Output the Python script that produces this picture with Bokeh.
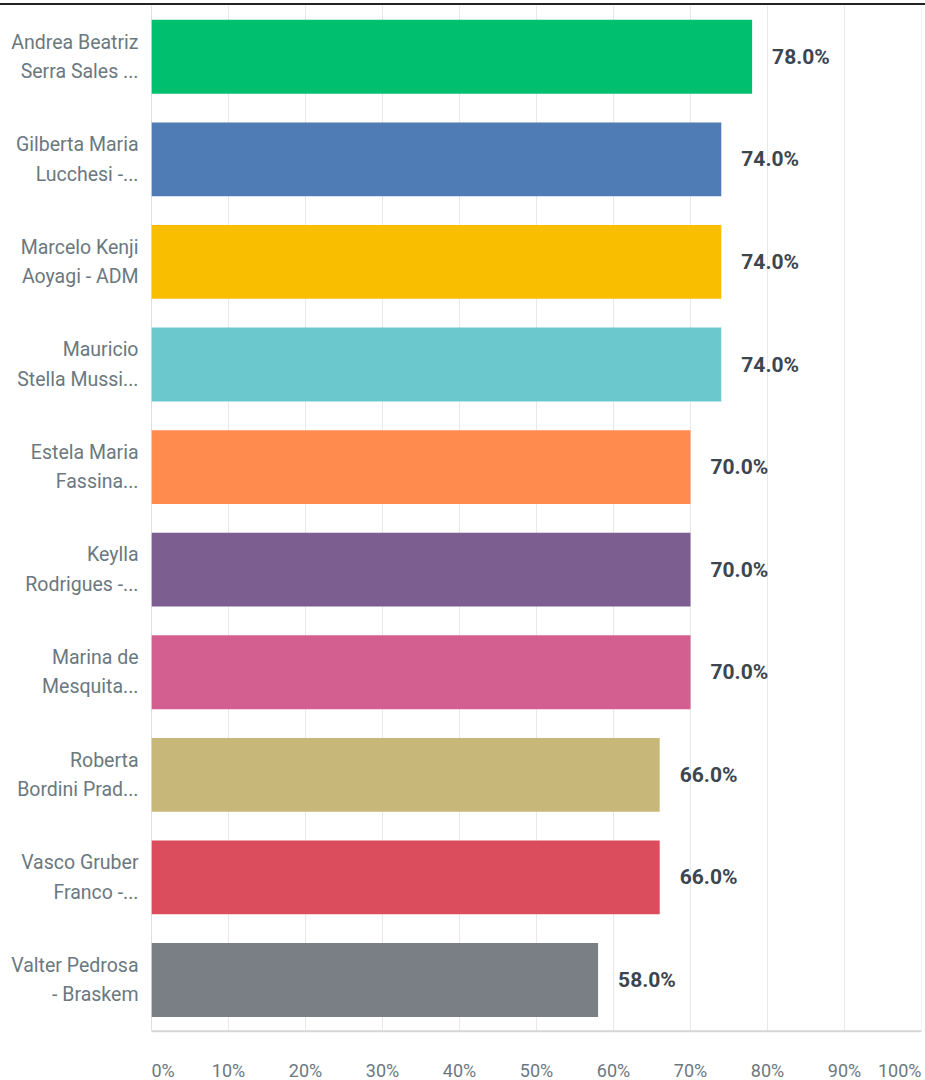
from bokeh.plotting import figure
from bokeh.models import Range1d, ColumnDataSource, FixedTicker, Span
from bokeh.core.properties import value
from bokeh.embed import file_html
from bokeh.resources import INLINE

categories = ["Andrea Beatriz\nSerra Sales ...", "Gilberta Maria\nLucchesi -...",
              "Marcelo Kenji\nAoyagi - ADM", "Mauricio\nStella Mussi...",
              "Estela Maria\nFassina...", "Keylla\nRodrigues -...",
              "Marina de\nMesquita...", "Roberta\nBordini Prad...",
              "Vasco Gruber\nFranco -...", "Valter Pedrosa\n- Braskem"]
values = [78.0, 74.0, 74.0, 74.0, 70.0, 70.0, 70.0, 66.0, 66.0, 58.0]
colors = ["#00BF6F", "#507CB6", "#F9BE00", "#6BC8CD", "#FF8B4F",
          "#7D5E90", "#D25F90", "#C7B879", "#DB4D5C", "#7A7F85"]
tick_values = [0, 10, 20, 30, 40, 50, 60, 70, 80, 90, 100]
tick_labels = ["0%", "10%", "20%", "30%", "40%", "50%", "60%", "70%", "80%", "90%", "100%"]

FONT = "Roboto"
n = len(categories)
ypos = [n - 1 - i for i in range(n)]          # first category on top
band_lo, band_hi = -0.5, n - 0.5
label_row = band_lo - 0.38                     # row of the x tick labels, below the bars
frame_lo = band_lo - 0.48

src = ColumnDataSource(dict(y=ypos, val=values, color=colors,
                            lab=[f"{v:.1f}%" for v in values]))
tick_src = ColumnDataSource(dict(
    x=tick_values, lab=tick_labels,
    align=["left" if t == tick_values[0] else "right" if t == tick_values[-1] else "center"
           for t in tick_values],
    y=[label_row] * len(tick_values),
    y0=[band_lo] * len(tick_values), y1=[band_hi] * len(tick_values)))

p = figure(y_range=Range1d(frame_lo, band_hi), x_range=Range1d(0, 100),
           frame_width=770, frame_height=1075,
           min_border_left=151, min_border_right=4, min_border_top=0, min_border_bottom=0,
           output_backend="svg", toolbar_location=None)
p.styles = {"border-top": "2px solid #222", "margin-top": "3px"}

# grid lines (only over the bar area)
p.segment(x0="x", x1="x", y0="y0", y1="y1", source=tick_src, line_color="#E8E8E8", line_width=1)
# left axis line
p.segment(x0=[0], x1=[0], y0=[band_lo], y1=[band_hi], line_color="#CCCCCC", line_width=1)
# bottom axis line
p.add_layout(Span(location=band_lo, dimension="width", line_color="#D6D6D6", line_width=2))

p.hbar(y="y", right="val", left=0, height=0.72, color="color", line_color=None, source=src)
p.text(x="val", y="y", text="lab", source=src, x_offset=20, text_baseline="middle",
       text_align="left", text_font=value(FONT), text_font_size="21px",
       text_font_style="bold", text_color="#3B4650")

# x tick labels
p.text(x="x", y="y", text="lab", source=tick_src, text_align="align", text_baseline="middle",
       text_font=value(FONT), text_font_size="18px", text_color="#6B787F")

p.outline_line_color = None
p.grid.grid_line_color = None
p.xaxis.visible = False

ya = p.yaxis[0]
ya.ticker = FixedTicker(ticks=ypos)
ya.major_label_overrides = {y: c for y, c in zip(ypos, categories)}
ya.axis_line_color = None
ya.major_tick_line_color = None
ya.minor_tick_line_color = None
ya.major_label_standoff = 7
ya.major_label_text_font = FONT
ya.major_label_text_font_size = "19.5px"
ya.major_label_text_color = "#6B787F"
ya.major_label_text_line_height = 1.28

open("out.html", "w").write(file_html(p, INLINE))
